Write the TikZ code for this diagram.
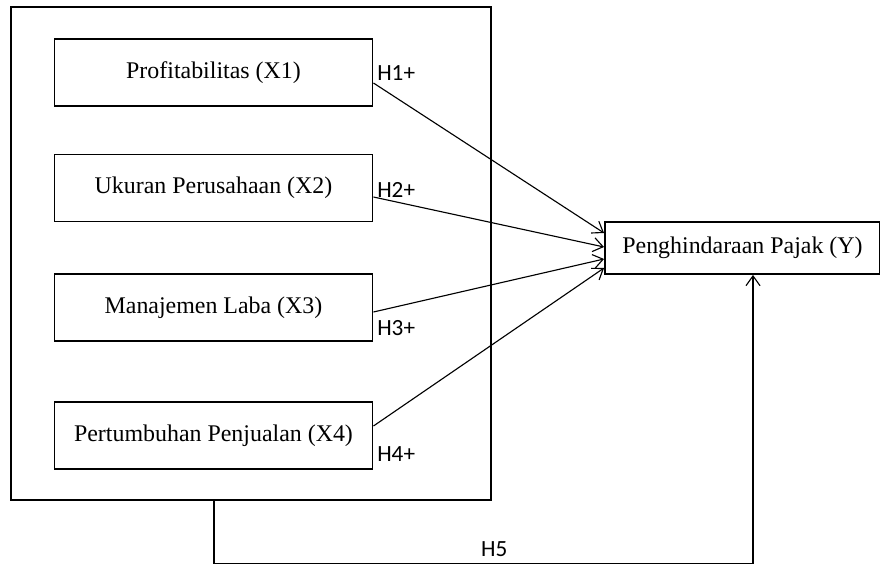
\documentclass[tikz,border=0pt]{standalone}
\usepackage{fontspec}
\usepackage{tikz}
\usetikzlibrary{arrows.meta,calc}
\setmainfont{Liberation Serif}
\newfontfamily\hlabelfont{Carlito}
\definecolor{InkBlack}{HTML}{000000}
\tikzset{
  varnode/.style={
    draw=InkBlack,line width=1.3pt,
    minimum width=7.95cm,minimum height=1.675cm,
    font=\fontsize{17}{20}\selectfont,
    align=center,inner sep=3pt
  },
  depnode/.style={
    draw=InkBlack,line width=1.3pt,
    minimum width=6.875cm,minimum height=1.3cm,
    font=\fontsize{17}{20}\selectfont,
    align=center,inner sep=3pt
  },
  groupbox/.style={
    draw=InkBlack,line width=1.4pt,
    minimum width=12cm,minimum height=12.325cm,inner sep=0pt
  },
  hlink/.style={
    draw=InkBlack,line width=0.8pt,
    -{Straight Barb[length=7pt,width=10pt,line width=0.8pt]}
  },
  hlabel/.style={
    font=\hlabelfont\fontsize{16.5}{19}\selectfont,anchor=west,inner sep=0pt
  },
}
\begin{document}
\begin{tikzpicture}[x=0.025cm,y=-0.025cm]
  \useasboundingbox (0,0) rectangle (880,564);
  \node[groupbox] (grp) at (251, 253.5) {};
  \node[varnode] (x1) at (213.5, 72.5) {Profitabilitas (X1)};
  \node[varnode] (x2) at (213.5, 188) {Ukuran Perusahaan (X2)};
  \node[varnode] (x3) at (213.5, 307.5) {Manajemen Laba (X3)};
  \node[varnode] (x4) at (213.5, 435.5) {Pertumbuhan Penjualan (X4)};
  \node[depnode] (y) at (742.5, 248) {Penghindaraan Pajak (Y)};
  \draw[hlink] ($(x1.east)+(0,10.5)$) -- ($(y.west)+(0,-15)$);
  \draw[hlink] ($(x2.east)+(0,9)$) -- ($(y.west)+(0,-1)$);
  \draw[hlink] ($(x3.east)+(0,4.5)$) -- ($(y.west)+(0,11)$);
  \draw[hlink] ($(x4.east)+(0,-9.5)$) -- ($(y.west)+(0,20)$);
  \node[hlabel] (h1) at (377, 73) {H1+};
  \node[hlabel] (h2) at (377, 190) {H2+};
  \node[hlabel] (h3) at (377, 328) {H3+};
  \node[hlabel] (h4) at (377, 454) {H4+};
  % H5: from the group box round to the dependent variable
  \draw[hlink,line width=1.2pt] ([xshift=-0.925cm]grp.south) -- ++(0,63)
    -| node[pos=0.26,above=1pt,font=\hlabelfont\fontsize{16.5}{19}\selectfont] (h5) {H5}
    ([xshift=0.2625cm]y.south);
\end{tikzpicture}
\end{document}
